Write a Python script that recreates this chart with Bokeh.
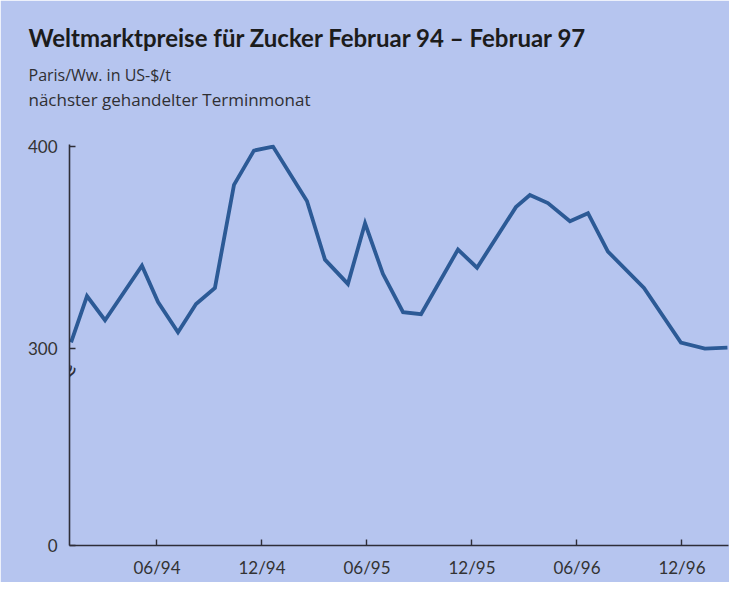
from bokeh.plotting import figure
from bokeh.models import Label, FixedTicker, Range1d, Title
from bokeh.embed import file_html
from bokeh.resources import INLINE

# ---- data ----
# month position: 0 = Jan 1994 tick origin, 1 unit = 1 month
months = [0.09, 1.0, 2.03, 4.14, 5.06, 6.2, 7.23, 8.31, 9.4, 10.54, 11.63,
          13.57, 14.6, 15.91, 16.89, 17.91, 19.06, 20.09, 22.2, 23.29,
          25.51, 26.31, 27.34, 28.6, 29.63, 30.77, 32.83, 34.94, 36.31, 37.6]
prices = [303, 326, 314, 341, 323, 308, 322, 330, 381, 398, 400,
          373, 344, 332, 362, 337, 318, 317, 349, 340,
          370, 376, 372, 363, 367, 348, 330, 303, 300, 300.5]

x_tick_pos = [5, 11, 17, 23, 29, 35]
x_tick_labels = ["06/94", "12/94", "06/95", "12/95", "06/96", "12/96"]

# broken axis: bottom of the axis stands for 0
y_axis_zero = 202.5
y_tick_pos = [y_axis_zero, 300, 400]
y_tick_labels = ["0", "300", "400"]

title_text = "Weltmarktpreise für Zucker Februar 94 \u2013 Februar 97"
sub1_text = "Paris/Ww. in US-$/t"
sub2_text = "nächster gehandelter Terminmonat"

BG = "#b6c5ef"
LINE = "#2c5a96"
AX = "#2e2e38"
FONT = "Lato"
SUBFONT = "Open Sans"
W, H = 729, 582

p = figure(width=W, height=H, output_backend="svg", toolbar_location=None,
           x_range=Range1d(0, 37.66), y_range=Range1d(y_axis_zero, 401),
           min_border_left=69, min_border_right=1, min_border_top=144,
           min_border_bottom=37)
p.background_fill_color = BG
p.border_fill_color = BG
p.outline_line_color = BG
p.outline_line_width = 2
p.grid.visible = False

p.line(months, prices, line_color=LINE, line_width=3.8, line_join="miter")

for ax in (p.xaxis[0], p.yaxis[0]):
    ax.axis_line_color = AX
    ax.axis_line_width = 1.6
    ax.major_tick_line_color = AX
    ax.major_tick_line_width = 1.4
    ax.major_tick_in = 6
    ax.major_tick_out = 0
    ax.minor_tick_line_color = None
    ax.major_label_text_font = FONT
    ax.major_label_text_font_size = "17px"
    ax.major_label_text_color = "#333333"

p.xaxis[0].ticker = FixedTicker(ticks=x_tick_pos)
p.xaxis[0].major_label_overrides = dict(zip(x_tick_pos, x_tick_labels))
p.xaxis[0].major_label_standoff = 11

p.yaxis[0].ticker = FixedTicker(ticks=y_tick_pos)
p.yaxis[0].major_label_overrides = dict(zip(y_tick_pos, y_tick_labels))
p.yaxis[0].major_label_standoff = 12

# axis break mark
p.add_layout(Label(x=0, y=288, text="\u2248", text_font="DejaVu Sans", text_font_size="22px",
                   text_color=AX, text_align="center", text_baseline="middle",
                   angle=1.0))

# titles (first added sits closest to the plot); first one is an empty spacer
p.add_layout(Title(text=" ", align="left", standoff=31, text_font_size="1px"), "above")
p.add_layout(Title(text=sub2_text, align="left", offset=-41, standoff=0,
                   text_font=SUBFONT, text_font_style="normal", text_font_size="17px",
                   text_color="#2f2f33"), "above")
p.add_layout(Title(text=sub1_text, align="left", offset=-41, standoff=0,
                   text_font=SUBFONT, text_font_style="normal", text_font_size="16px",
                   text_color="#2f2f33"), "above")
p.add_layout(Title(text=title_text, align="left", offset=-41, standoff=20,
                   text_font=FONT, text_font_style="bold", text_font_size="24px",
                   text_color="#1c1c1c"), "above")

open("out.html", "w").write(file_html(p, INLINE))
